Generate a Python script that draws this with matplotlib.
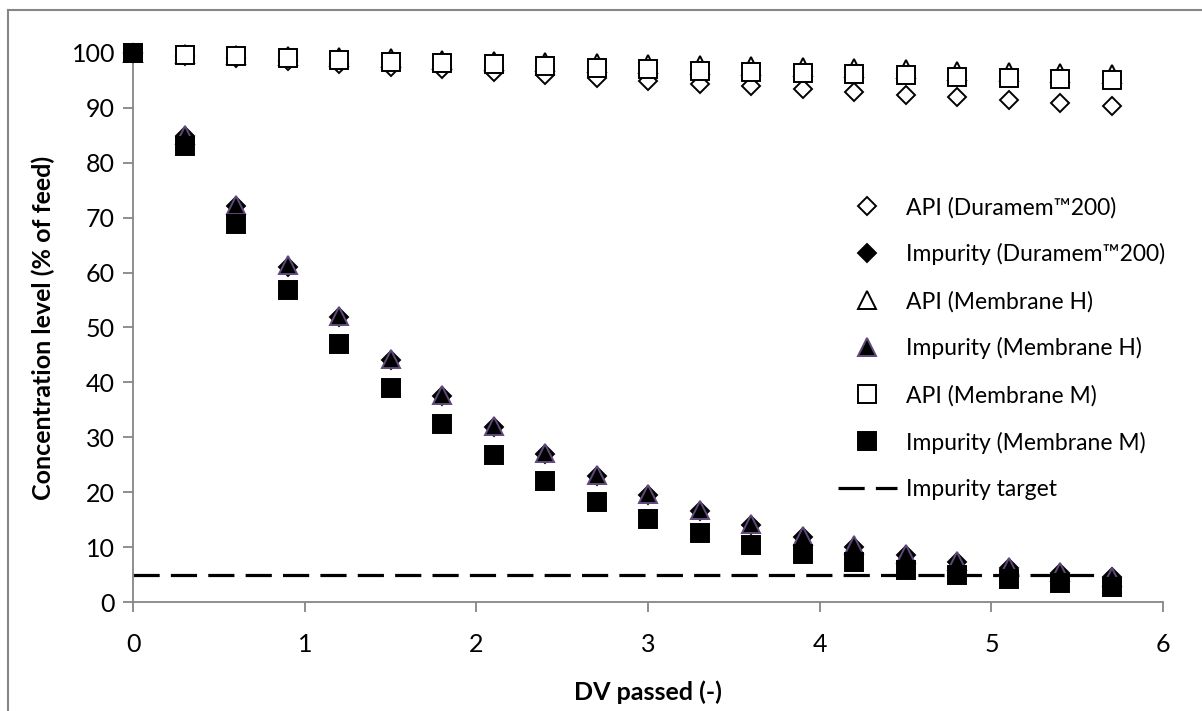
import matplotlib
matplotlib.use("Agg")
import matplotlib.pyplot as plt
from matplotlib.lines import Line2D

plt.rcParams['font.family'] = ['Lato', 'DejaVu Sans']

# diafiltration volumes passed
dv = [0, 0.3, 0.6, 0.9, 1.2, 1.5, 1.8, 2.1, 2.4, 2.7,
      3.0, 3.3, 3.6, 3.9, 4.2, 4.5, 4.8, 5.1, 5.4, 5.7]

api_duramem = [100, 99.5, 99.0, 98.5, 98.0, 97.5, 97.0, 96.5, 96.0, 95.4,
               94.9, 94.4, 93.9, 93.4, 92.9, 92.4, 91.9, 91.4, 90.9, 90.4]
imp_duramem = [100, 84.8, 72.1, 61.1, 51.9, 44.1, 37.5, 31.8, 27.0, 22.9,
               19.5, 16.5, 14.0, 11.9, 10.1, 8.6, 7.3, 6.2, 5.3, 4.5]
api_memH = [100, 99.8, 99.6, 99.4, 99.2, 99.0, 98.8, 98.6, 98.4, 98.2,
            98.0, 97.8, 97.6, 97.4, 97.2, 97.0, 96.8, 96.6, 96.4, 96.2]
imp_memH = [100, 85.0, 72.3, 61.3, 52.1, 44.3, 37.7, 32.0, 27.2, 23.1,
            19.7, 16.7, 14.2, 12.1, 10.3, 8.7, 7.4, 6.3, 5.4, 4.6]
api_memM = [100, 99.7, 99.4, 99.0, 98.7, 98.4, 98.1, 97.9, 97.6, 97.3,
            97.0, 96.8, 96.5, 96.3, 96.1, 95.9, 95.7, 95.5, 95.3, 95.1]
imp_memM = [100, 83.0, 68.8, 56.8, 47.0, 39.0, 32.4, 26.8, 22.1, 18.3,
            15.2, 12.6, 10.4, 8.7, 7.2, 5.9, 4.9, 4.1, 3.4, 2.8]
target = 5

fig = plt.figure(figsize=(12.02, 7.11), dpi=100)
ax = fig.add_axes([0.1107, 0.1533, 0.857, 0.7722])

grey = '#868686'
purple = '#5f497a'

ax.plot([dv[0], dv[-1]], [target, target], color='black', lw=2.3,
        dashes=(8.2, 3.5), zorder=1, label='Impurity target')

series = [
    (api_duramem, 'D', 9.5, 'white', 'black', 'API (Duramem™200)'),
    (imp_duramem, 'D', 9.5, 'black', 'black', 'Impurity (Duramem™200)'),
    (api_memH, '^', 13, 'white', 'black', 'API (Membrane H)'),
    (imp_memH, '^', 13, 'black', purple, 'Impurity (Membrane H)'),
    (api_memM, 's', 12.5, 'white', 'black', 'API (Membrane M)'),
    (imp_memM, 's', 12.5, 'black', 'black', 'Impurity (Membrane M)'),
]
for i, (y, m, ms, fc, ec, lab) in enumerate(series):
    ax.plot(dv, y, ls='none', marker=m, ms=ms, mfc=fc, mec=ec, mew=1.4,
            zorder=2 + i, clip_on=False, label=lab)

ax.set_xlim(0, 6)
ax.set_ylim(0, 100)
ax.set_xticks(range(0, 7))
ax.set_yticks(range(0, 101, 10))
ax.tick_params(labelsize=18, length=7, width=1.3, color=grey, pad=6)
ax.tick_params(axis='x', pad=15)
for s in ['top', 'right']:
    ax.spines[s].set_visible(False)
for s in ['left', 'bottom']:
    ax.spines[s].set_color(grey)
    ax.spines[s].set_linewidth(1.3)

ax.set_xlabel('DV passed (-)', fontsize=18, fontweight='bold', labelpad=18)
ax.set_ylabel('Concentration level (% of feed)', fontsize=18,
              fontweight='bold', labelpad=12)

h, l = ax.get_legend_handles_labels()
order = [1, 2, 3, 4, 5, 6, 0]
ax.legend([h[i] for i in order], [l[i] for i in order], loc='upper left',
          bbox_to_anchor=(0.675, 0.755), frameon=False, fontsize=16.5,
          handlelength=2.6, handletextpad=0.4, labelspacing=1.1,
          borderaxespad=0)

# outer chart border
fig.add_artist(Line2D([8 / 1202, 8 / 1202], [0, 1 - 10 / 711],
                      transform=fig.transFigure, color=grey, lw=1.5))
fig.add_artist(Line2D([8 / 1202, 1], [1 - 10 / 711, 1 - 10 / 711],
                      transform=fig.transFigure, color=grey, lw=1.5))

fig.savefig('out.png', dpi=100)
